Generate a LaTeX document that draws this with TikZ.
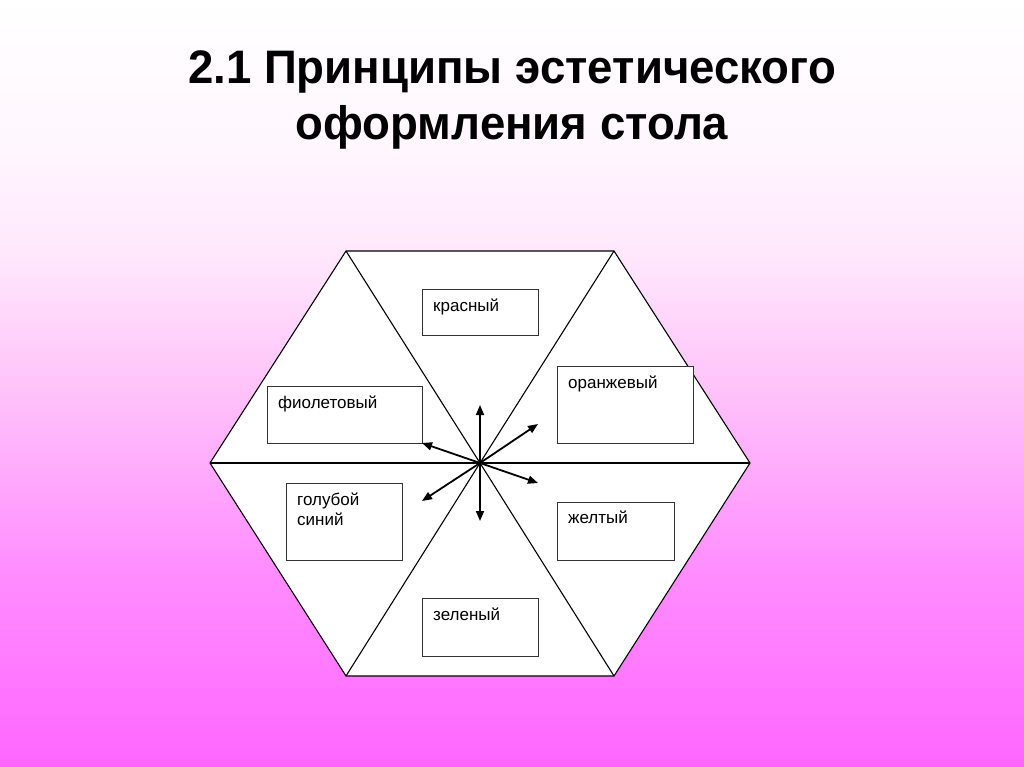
\documentclass[tikz,border=0pt]{standalone}
\usepackage{fontspec}
\setmainfont{Liberation Sans}
\newfontfamily\titlefont[FakeStretch=0.97]{Liberation Sans}
\usetikzlibrary{arrows.meta,calc}
\definecolor{bgbot}{HTML}{FF66FF}
\definecolor{bgq}{HTML}{FF8CFF}
\definecolor{bgmid}{HTML}{FFC4FA}
\definecolor{bgup}{HTML}{FFE6FC}
\definecolor{bgtop}{HTML}{FFF6FE}
\pgfdeclareverticalshading{slidebg}{100bp}{color(0bp)=(bgbot); color(25bp)=(bgbot); color(37.5bp)=(bgq); color(50bp)=(bgmid); color(58bp)=(bgup); color(65bp)=(bgtop); color(75bp)=(white); color(100bp)=(white)}
\tikzset{
  hexline/.style={draw=black, line width=1.1pt},
  colbox/.style={draw=black!80, line width=1.4pt, fill=white, anchor=north west, inner sep=0pt},
  lbl/.style={font=\fontsize{17}{20}\selectfont, anchor=base west, inner sep=0pt, align=left},
  ray/.style={draw=black, line width=1.8pt, -{Triangle[length=10pt,width=8pt]}},
  title/.style={font=\titlefont\bfseries\fontsize{47}{56}\selectfont, align=center, inner sep=0pt, anchor=north}
}
\begin{document}
\begin{tikzpicture}[x=1pt,y=-1pt]
\useasboundingbox (0,0) rectangle (1024,767);
\shade[shading=slidebg] (0,0) rectangle (1024,767);
\node[title] (title) at (512,50) {2.1 Принципы эстетического\\оформления стола};
% hexagon
\coordinate (c) at (480,463);
\coordinate (v1) at (346,251);
\coordinate (v2) at (614,251);
\coordinate (v3) at (750,463);
\coordinate (v4) at (614,676);
\coordinate (v5) at (346,676);
\coordinate (v6) at (210,463);
\path[fill=white, hexline] (v1) -- (v2) -- (v3) -- (v4) -- (v5) -- (v6) -- cycle;
\foreach \v in {v1,v2,v3,v4,v5,v6} \draw[hexline] (c) -- (\v);
% boxes
\node[colbox, minimum width=116pt, minimum height=46pt] (red) at (422,289) {};
\node[colbox, minimum width=136pt, minimum height=77pt] (orange) at (557,366) {};
\node[colbox, minimum width=117pt, minimum height=58pt] (yellow) at (557,502) {};
\node[colbox, minimum width=116pt, minimum height=58pt] (green) at (422,598) {};
\node[colbox, minimum width=116pt, minimum height=77pt] (blue) at (286,483) {};
\node[colbox, minimum width=155pt, minimum height=57pt] (violet) at (267,386) {};
% labels
\node[lbl] (redt) at ($(red.north west)+(11,22)$) {красный};
\node[lbl] (oranget) at ($(orange.north west)+(11,22)$) {оранжевый};
\node[lbl] (yellowt) at ($(yellow.north west)+(11,21)$) {желтый};
\node[lbl] (greent) at ($(green.north west)+(11,22)$) {зеленый};
\node[lbl] (bluet) at ($(blue.north west)+(11,42)$) {голубой\\синий};
\node[lbl] (violett) at ($(violet.north west)+(11,22)$) {фиолетовый};
% rays
\coordinate (tU) at (480,405);
\coordinate (tD) at (480,521);
\coordinate (tUR) at (538,424);
\coordinate (tDR) at (538,483);
\coordinate (tUL) at (422,443);
\coordinate (tDL) at (422,501);
\foreach \t in {tU,tD,tUR,tDR,tUL,tDL} \draw[ray] (c) -- (\t);
\end{tikzpicture}
\end{document}
